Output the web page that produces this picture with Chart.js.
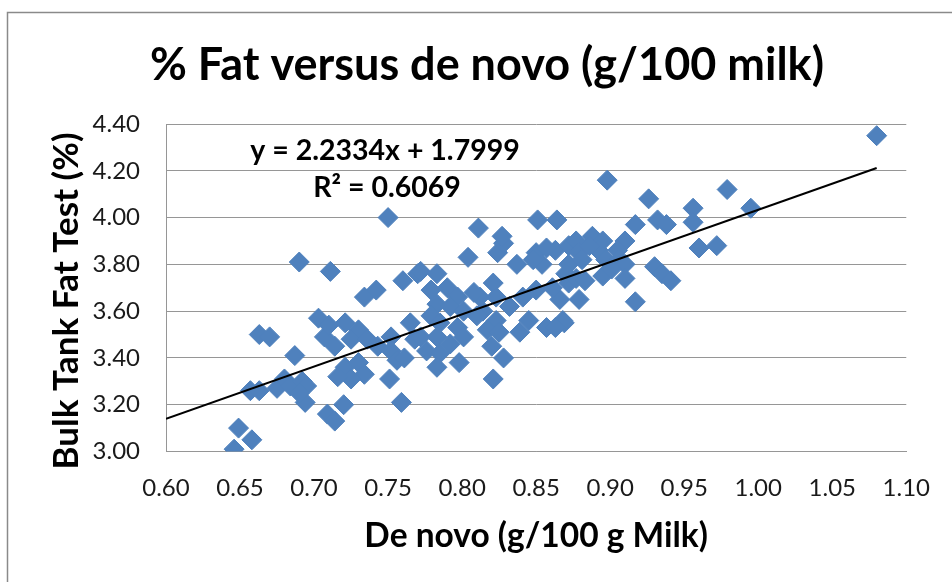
<!DOCTYPE html>
<html><head><meta charset="utf-8">
<script src="https://cdn.jsdelivr.net/npm/chart.js@4.4.1/dist/chart.umd.min.js"></script>
<style>html,body{margin:0;padding:0;background:#fff;overflow:hidden}#wrap{width:952px;height:582px}</style>
</head><body><div id="wrap"><canvas id="c" width="952" height="582"></canvas></div>
<script>
const titleText = '% Fat versus de novo (g/100 milk)';
const xTitle = 'De novo (g/100 g Milk)';
const yTitle = 'Bulk Tank Fat Test (%)';
const xTicks = [0.60, 0.65, 0.70, 0.75, 0.80, 0.85, 0.90, 0.95, 1.00, 1.05, 1.10];
const yTicks = [3.00, 3.20, 3.40, 3.60, 3.80, 4.00, 4.20, 4.40];

// De novo (g/100 g milk)
const deNovo = [
  0.646, 0.649, 0.658, 0.657, 0.663, 0.675, 0.680, 0.684, 0.692, 0.695,
  0.663, 0.670, 0.687, 0.690, 0.711, 0.694, 0.690, 0.709, 0.714, 0.720,
  0.703, 0.707, 0.710, 0.721, 0.730, 0.725, 0.736, 0.743, 0.714, 0.721,
  0.730, 0.734, 0.725, 0.716, 0.734, 0.742, 0.760, 0.770, 0.750, 0.752,
  0.756, 0.761, 0.751, 0.752, 0.765, 0.768, 0.759,
  0.804, 0.824, 0.828, 0.837, 0.850, 0.854, 0.863, 0.872,
  0.772, 0.783, 0.779, 0.790, 0.797, 0.783, 0.792, 0.801, 0.779, 0.785,
  0.797, 0.772, 0.783, 0.792, 0.801, 0.776, 0.785, 0.783, 0.798,
  0.812, 0.821, 0.823, 0.814, 0.823, 0.817, 0.825, 0.820, 0.828, 0.821,
  0.832, 0.841, 0.850, 0.845, 0.839, 0.857, 0.866, 0.868, 0.872, 0.861,
  0.811, 0.827, 0.851, 0.864, 0.857, 0.848, 0.808, 0.810,
  0.898, 0.926, 0.979, 0.917, 0.932, 0.938, 0.956, 0.956, 0.995, 0.960,
  0.972, 0.910, 0.905, 0.888, 0.895, 0.877, 0.879, 0.892, 0.886, 0.872,
  0.881, 0.897, 0.906, 0.910, 0.870, 0.877, 0.895, 0.901, 0.910, 0.883,
  0.930, 0.935, 0.941, 0.879, 0.917, 0.869, 0.863, 1.080
];
// Bulk tank fat test (%)
const fatTest = [
  3.01, 3.10, 3.05, 3.26, 3.26, 3.27, 3.31, 3.28, 3.30, 3.28,
  3.50, 3.49, 3.41, 3.81, 3.77, 3.21, 3.25, 3.16, 3.13, 3.20,
  3.57, 3.49, 3.54, 3.55, 3.52, 3.48, 3.48, 3.45, 3.45, 3.36,
  3.38, 3.33, 3.31, 3.32, 3.66, 3.69, 3.73, 3.76, 4.00, 3.43,
  3.39, 3.40, 3.31, 3.49, 3.55, 3.48, 3.21,
  3.83, 3.85, 3.89, 3.80, 3.85, 3.80, 3.86, 3.88,
  3.77, 3.76, 3.69, 3.70, 3.66, 3.63, 3.62, 3.60, 3.58, 3.55,
  3.53, 3.49, 3.49, 3.46, 3.49, 3.43, 3.42, 3.36, 3.38,
  3.66, 3.72, 3.66, 3.60, 3.56, 3.52, 3.51, 3.45, 3.40, 3.31,
  3.62, 3.66, 3.69, 3.56, 3.51, 3.53, 3.65, 3.56, 3.72, 3.70,
  3.955, 3.92, 3.99, 3.99, 3.87, 3.82, 3.68, 3.58,
  4.16, 4.08, 4.12, 3.97, 3.99, 3.97, 4.04, 3.98, 4.04, 3.87,
  3.88, 3.90, 3.86, 3.92, 3.90, 3.90, 3.85, 3.86, 3.88, 3.80,
  3.82, 3.82, 3.82, 3.80, 3.76, 3.74, 3.75, 3.78, 3.74, 3.73,
  3.79, 3.76, 3.73, 3.65, 3.64, 3.55, 3.53, 4.35
];

// Linear trendline shown on the chart
const slope = 2.2334;
const intercept = 1.7999;
const rSquared = 0.6069;
const trendX = [0.60, 1.08];
const eqLine1 = 'y = ' + slope.toFixed(4) + 'x + ' + intercept.toFixed(4);
const eqLine2 = 'R\u00B2 = ' + rSquared.toFixed(4);

const blue = '#4F81BD';
const gridGray = '#969696';

const points = deNovo.map((x, i) => ({x: x, y: fatTest[i]}));
const trend = trendX.map(x => ({x: x, y: slope * x + intercept}));

const frame = {
  id: 'frame',
  beforeDraw(chart) {
    const ctx = chart.ctx;
    ctx.save();
    ctx.fillStyle = '#fff';
    ctx.fillRect(0, 0, chart.width, chart.height);
    ctx.strokeStyle = '#8a8a8a';
    ctx.lineWidth = 1.5;
    ctx.strokeRect(7.5, 12.5, 1200, 1200);
    ctx.restore();
  }
};
const texts = {
  id: 'texts',
  afterDatasetsDraw(chart) {
    const ctx = chart.ctx, a = chart.chartArea;
    ctx.save();
    ctx.fillStyle = '#000';
    ctx.textAlign = 'center';
    // chart title
    ctx.textBaseline = 'alphabetic';
    ctx.font = 'bold 45px Lato';
    ctx.fillText(titleText, 487, 80);
    // x axis title
    ctx.font = 'bold 33.5px Lato';
    ctx.fillText(xTitle, (a.left + a.right) / 2, 547);
    // y axis title
    ctx.save();
    ctx.translate(78, 301);
    ctx.rotate(-Math.PI / 2);
    ctx.font = 'bold 35px Lato';
    ctx.fillText(yTitle, 0, 0);
    ctx.restore();
    // trendline equation
    ctx.textBaseline = 'middle';
    ctx.font = 'bold 28.5px Lato';
    ctx.fillText(eqLine1, a.left + 219, a.top + 27);
    ctx.fillText(eqLine2, a.left + 221, a.top + 64);
    ctx.restore();
  }
};

function draw() {
  new Chart(document.getElementById('c'), {
    data: {
      datasets: [
        {
          type: 'line', data: trend, order: 0,
          borderColor: '#000', borderWidth: 2, pointRadius: 0, fill: false, tension: 0
        },
        {
          type: 'scatter', data: points, order: 1,
          pointStyle: 'rectRot', pointRadius: 10, pointHoverRadius: 10,
          backgroundColor: blue, borderColor: blue, borderWidth: 1
        }
      ]
    },
    options: {
      responsive: false, animation: false, devicePixelRatio: 1,
      events: [],
      layout: {padding: {left: 0, right: 38, top: 124, bottom: 0}},
      plugins: {
        legend: {display: false}, tooltip: {enabled: false},
        title: {display: false}
      },
      scales: {
        x: {
          type: 'linear', min: 0.60, max: 1.10,
          afterBuildTicks: s => { s.ticks = xTicks.map(v => ({value: v})); },
          afterFit: s => { s.height = 130.5; },
          grid: {display: false, drawTicks: false},
          border: {display: true, color: gridGray, width: 1},
          ticks: {
            padding: 22, color: '#1a1a1a', maxRotation: 0, autoSkip: false,
            font: {family: 'Lato', size: 24, lineHeight: 1.2},
            callback: v => Number(v).toFixed(2)
          },
          title: {display: false, text: xTitle}
        },
        y: {
          type: 'linear', min: 3.00, max: 4.40,
          afterBuildTicks: s => { s.ticks = yTicks.map(v => ({value: v})); },
          afterFit: s => { s.width = 166; },
          grid: {color: gridGray, lineWidth: 1, drawTicks: false},
          border: {display: true, color: gridGray, width: 1},
          ticks: {
            padding: 26, color: '#1a1a1a', autoSkip: false,
            font: {family: 'Lato', size: 24, lineHeight: 1.2},
            callback: v => Number(v).toFixed(2)
          },
          title: {display: false, text: yTitle}
        }
      }
    },
    plugins: [frame, texts]
  });
}
Promise.all([
  document.fonts.load('bold 40px Lato'),
  document.fonts.load('24px Lato')
]).then(draw, draw);
</script>
</body></html>
